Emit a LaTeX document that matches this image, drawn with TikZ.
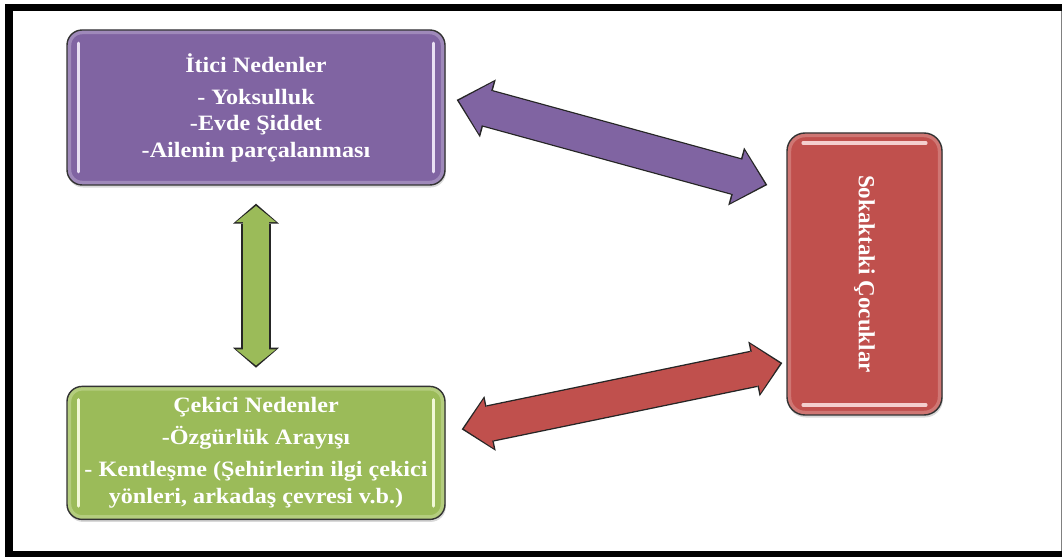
\documentclass[tikz,border=0pt]{standalone}
\usepackage{fontspec}
\setmainfont{Liberation Serif}
\newfontfamily\boxfont[FakeStretch=1.1]{Liberation Serif}
\usepackage{tikz}
\usetikzlibrary{positioning,calc,shadows,arrows.meta}

\definecolor{pushpurple}{HTML}{8064A2}
\definecolor{pullgreen}{HTML}{9BBB59}
\definecolor{streetred}{HTML}{C0504D}
\definecolor{pushgloss}{HTML}{E8DFF3}
\definecolor{pullgloss}{HTML}{F1F8D6}
\definecolor{streetgloss}{HTML}{F4CFCE}

\begin{document}
\begin{tikzpicture}[node distance=5cm,
    font=\boxfont\bfseries\fontsize{15.6}{18.8}\selectfont,
    causebox/.style={draw=black!80, line width=1pt, rectangle, rounded corners=0.38cm,
        minimum width=9.45cm, text=white, align=center,
        drop shadow={opacity=0.3, shadow xshift=0.6pt, shadow yshift=-1.8pt}},
    sidegloss/.style={path picture={
        \draw[#1, opacity=0.3, line width=6pt]
            (path picture bounding box.south west) rectangle (path picture bounding box.north east);
        \draw[#1, line width=2.2pt, line cap=round]
            ([xshift=0.28cm, yshift=-0.33cm]path picture bounding box.north west) --
            ([xshift=0.28cm, yshift=0.33cm]path picture bounding box.south west);
        \draw[#1, line width=2.2pt, line cap=round]
            ([xshift=-0.28cm, yshift=-0.33cm]path picture bounding box.north east) --
            ([xshift=-0.28cm, yshift=0.33cm]path picture bounding box.south east);}},
    topgloss/.style={path picture={
        \draw[#1, opacity=0.3, line width=6pt]
            (path picture bounding box.south west) rectangle (path picture bounding box.north east);
        \draw[#1, line width=2.2pt, line cap=round]
            ([xshift=0.4cm, yshift=-0.25cm]path picture bounding box.north west) --
            ([xshift=-0.4cm, yshift=-0.25cm]path picture bounding box.north east);
        \draw[#1, line width=2.2pt, line cap=round]
            ([xshift=0.4cm, yshift=0.25cm]path picture bounding box.south west) --
            ([xshift=-0.4cm, yshift=0.25cm]path picture bounding box.south east);}}
]
    % Frame
    \useasboundingbox (0,0) rectangle (26.55,-13.925);
    \draw [line width=0.19cm] (26.8,-0.1875) -- (0.225,-0.1875) -- (0.225,-13.875) -- (26.8,-13.875);
    \draw [gray, line width=0.6pt] (26.525,-0.28) -- (26.525,-13.78);

    % Boxes
    \node [causebox, fill=pushpurple, sidegloss=pushgloss, minimum height=3.875cm] (itici) at (6.4,-2.6875)
        {İtici Nedenler\\[4pt] - Yoksulluk\\ -Evde Şiddet\\ -Ailenin parçalanması};

    \node [causebox, fill=pullgreen, sidegloss=pullgloss, minimum height=3.325cm, below=of itici] (cekici)
        {Çekici Nedenler\\[4pt] -Özgürlük Arayışı\\[4pt] - Kentleşme (Şehirlerin ilgi çekici\\ yönleri, arkadaş çevresi v.b.)};

    \node [causebox, fill=streetred, topgloss=streetgloss, rounded corners=0.45cm, minimum width=3.875cm,
        minimum height=7.05cm, font=\rmfamily\bfseries\fontsize{16.4}{20}\selectfont] (sokak) at (21.6125,-6.85)
        {\rotatebox{-90}{Sokaktaki Çocuklar}};

    % Arrow ends
    \coordinate (pushA) at ([xshift=0.275cm, yshift=0.19cm]itici.east);
    \coordinate (pushB) at ([xshift=-0.475cm, yshift=2.225cm]sokak.west);
    \coordinate (pullA) at ([xshift=0.4cm, yshift=0.59cm]cekici.east);
    \coordinate (pullB) at ([xshift=-0.1cm, yshift=-2.225cm]sokak.west);
    \coordinate (linkA) at ([yshift=-0.45cm]itici.south);
    \coordinate (linkB) at ([yshift=0.45cm]cekici.north);

    % Connections
    \foreach \a/\b/\col/\sw/\hw/\hl/\rsw/\rhw/\rhl in {
        pushA/pushB/pushpurple/25pt/38.5pt/20.3pt/27pt/42.7pt/23pt,
        pullA/pullB/streetred/24.2pt/35.6pt/18pt/26.3pt/39.8pt/20.6pt,
        linkA/linkB/pullgreen/19.2pt/28.5pt/11.5pt/21.3pt/32.7pt/14.2pt} {
        \draw [black!85, line width=\rsw,
            {Triangle[width=\rhw, length=\rhl, line width=0pt]}-{Triangle[width=\rhw, length=\rhl, line width=0pt]}] (\a) -- (\b);
        \draw [\col, line width=\sw, shorten <=1.6pt, shorten >=1.6pt,
            {Triangle[width=\hw, length=\hl, line width=0pt]}-{Triangle[width=\hw, length=\hl, line width=0pt]}] (\a) -- (\b);
        \draw [\col, line width=\sw, shorten <=\hl, shorten >=\hl] (\a) -- (\b);
    }
\end{tikzpicture}
\end{document}
